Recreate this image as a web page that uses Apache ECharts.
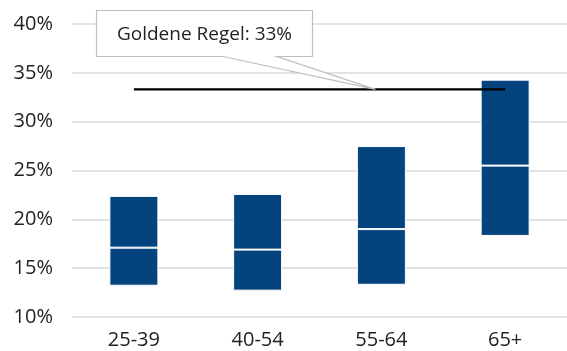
<!DOCTYPE html>
<html>
<head>
<meta charset="utf-8">
<script src="https://cdn.jsdelivr.net/npm/echarts@6/dist/echarts.min.js"></script>
<style>
  html, body { margin: 0; padding: 0; background: #fff; }
  #chart { width: 567px; height: 351px; }
</style>
</head>
<body>
<div id="chart"></div>
<script>
// Age groups and the spread of values in each (low / median / high, in %)
const categories = ['25-39', '40-54', '55-64', '65+'];
const lowValues = [13.2, 12.7, 13.3, 18.3];
const medianValues = [17.1, 16.9, 19.0, 25.5];
const highValues = [22.4, 22.6, 27.5, 34.3];
// Rule-of-thumb reference level (%)
const ruleValue = 33.3;
const ruleLabel = 'Goldene Regel: 33%';
const yTicks = { min: 10, max: 40, interval: 5 };

const BLUE = '#03447f';
const FONT = 'Open Sans';

const chart = echarts.init(document.getElementById('chart'));

const barCommon = {
  type: 'bar',
  stack: 'range',
  barWidth: 49,
  silent: true
};

chart.setOption({
  animation: false,
  grid: { left: 72, right: 0, top: 24, bottom: 34 },
  xAxis: {
    type: 'category',
    data: categories,
    axisLine: { show: false },
    axisTick: { show: false },
    axisLabel: { fontFamily: FONT, fontSize: 20, color: '#222', margin: 13 }
  },
  yAxis: {
    type: 'value',
    min: yTicks.min,
    max: yTicks.max,
    interval: yTicks.interval,
    axisLine: { show: false },
    axisTick: { show: false },
    axisLabel: {
      fontFamily: FONT, fontSize: 20, color: '#222', margin: 19,
      formatter: '{value}%'
    },
    splitLine: { lineStyle: { color: '#d9d9d9', width: 1.5 } }
  },
  series: [
    Object.assign({}, barCommon, {
      name: 'base',
      data: lowValues,
      itemStyle: { color: 'transparent' }
    }),
    Object.assign({}, barCommon, {
      name: 'lower',
      data: medianValues.map((m, i) => m - lowValues[i]),
      itemStyle: { color: BLUE, borderColor: '#fff', borderWidth: 1 }
    }),
    Object.assign({}, barCommon, {
      name: 'upper',
      data: highValues.map((h, i) => h - medianValues[i]),
      itemStyle: { color: BLUE, borderColor: '#fff', borderWidth: 1 }
    }),
    {
      type: 'line',
      name: 'rule',
      data: categories.map(() => ruleValue),
      symbol: 'none',
      silent: true,
      z: 5,
      lineStyle: { color: '#000', width: 2.2 }
    }
  ]
});

// Callout box pointing at the reference line
const tipY = chart.convertToPixel({ yAxisIndex: 0 }, ruleValue);
const tipX = chart.convertToPixel({ xAxisIndex: 0 }, categories[2]) - 6;
const box = { x1: 96.5, y1: 10.5, x2: 312.5, y2: 56.5 };
chart.setOption({
  graphic: [
    {
      type: 'polygon',
      z: 10,
      shape: {
        points: [
          [box.x1, box.y1], [box.x2, box.y1], [box.x2, box.y2],
          [277, box.y2], [tipX, tipY], [223, box.y2], [box.x1, box.y2]
        ]
      },
      style: { fill: '#fff', stroke: '#bfbfbf', lineWidth: 1.2 }
    },
    {
      type: 'text',
      z: 11,
      x: (box.x1 + box.x2) / 2,
      y: (box.y1 + box.y2) / 2 + 1,
      style: {
        text: ruleLabel,
        fontFamily: FONT,
        fontSize: 19,
        fill: '#222',
        align: 'center',
        verticalAlign: 'middle'
      }
    }
  ]
});
</script>
</body>
</html>
